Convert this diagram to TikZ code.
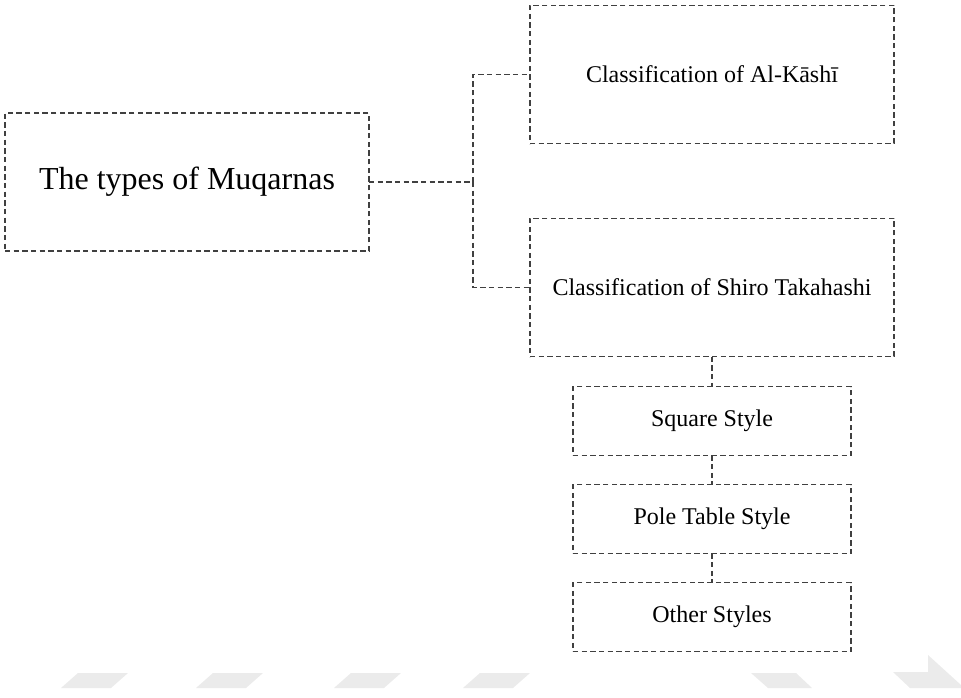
\documentclass[tikz,border=0pt]{standalone}
\usepackage{fontspec}
\setmainfont{Liberation Serif}
\usetikzlibrary{positioning}

\begin{document}
\begin{tikzpicture}[
    x=0.75pt, y=-0.75pt,
    box/.style={draw=black!75, line width=0.8pt, dash pattern=on 4pt off 2.5pt,
      inner sep=0pt, outer sep=0pt, font=\fontsize{18}{21}\selectfont},
    bigbox/.style={box, minimum width=273pt, minimum height=104pt},
    stylebox/.style={box, minimum width=208.5pt, minimum height=51.5pt},
    link/.style={draw=black!75, line width=0.8pt, dash pattern=on 4pt off 2.5pt},
    watermark/.style={fill=black!8},
  node distance=22pt]

  \useasboundingbox (0,0) rectangle (961,698);

  % root
  \node [bigbox, minimum height=103.5pt, font=\fontsize{24}{28}\selectfont]
    (types) at (187,182) {The types of Muqarnas};

  % classifications
  \node [bigbox] (kashi) at (712,74.5) {Classification of Al-Kāshī};
  \node [bigbox] (takahashi) at (712,287.5) {Classification of Shiro Takahashi};

  % styles
  \node [stylebox, below=22.5pt of takahashi] (square) {Square Style};
  \node [stylebox, below=of square] (pole) {Pole Table Style};
  \node [stylebox, below=of pole] (other) {Other Styles};

  % connectors
  \coordinate (split) at (473,182);
  \draw [link] (types.east) -- (split);
  \draw [link] (split) |- (kashi.west);
  \draw [link] (split) |- (takahashi.west);
  \draw [link] (takahashi.south) -- (square.north);
  \draw [link] (square.south) -- (pole.north);
  \draw [link] (pole.south) -- (other.north);

  % faint marks at the bottom
  \foreach \a in {61,196,334,463}
    \fill [watermark] (\a,688) -- (\a+50,688) -- (\a+67,673) -- (\a+17,673) -- cycle;
  \fill [watermark] (751,673) -- (796,673) -- (812,688) -- (768,688) -- cycle;
  \fill [watermark] (893,672) -- (928,672) -- (928,655) -- (961,685) -- (961,688)
    -- (910,688) -- cycle;
\end{tikzpicture}
\end{document}
